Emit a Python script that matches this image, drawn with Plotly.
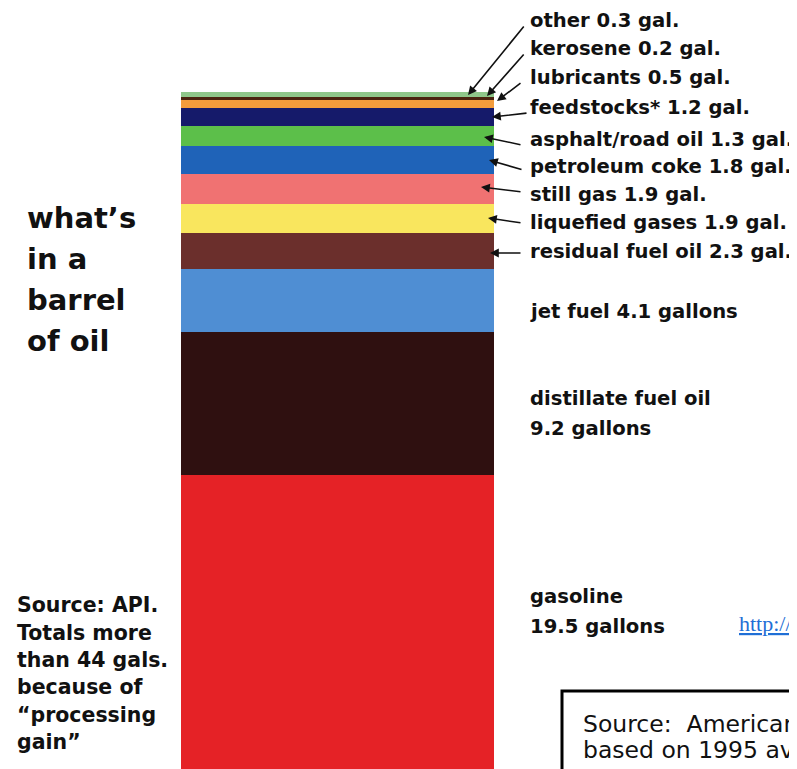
import plotly.graph_objects as go

# ---------------- data (top of barrel -> bottom) ----------------
products = ["other", "kerosene", "lubricants", "feedstocks*", "asphalt/road oil",
            "petroleum coke", "still gas", "liquefied gases", "residual fuel oil",
            "jet fuel", "distillate fuel oil", "gasoline"]
gallons = [0.3, 0.2, 0.5, 1.2, 1.3, 1.8, 1.9, 1.9, 2.3, 4.1, 9.2, 19.5]

title_lines = ["what\u2019s", "in a", "barrel", "of oil"]
note_lines = ["Source: API.", "Totals more", "than 44 gals.", "because of",
              "\u201cprocessing", "gain\u201d"]
box_lines = ["Source:&nbsp; American", "based on 1995 average"]
link_text = "http://"

# ---------------- styles ----------------
colors = ["#8fc78a", "#4b2410", "#f39c3c", "#151a6a", "#5cbf4a", "#1f63b8",
          "#f07272", "#f9e65e", "#6b2f2c", "#4f8ed3", "#2f1010", "#e52226"]

PAGE_W, PAGE_H = 797, 769
OFF = 8                      # browser default body margin
FW, FH = PAGE_W - OFF, PAGE_H - OFF
PX_PER_GAL = 15.5
BAR_TOP_PX = 92
total = sum(gallons)
y_top = total + (BAR_TOP_PX - OFF) / PX_PER_GAL
y_bot = total - (PAGE_H - BAR_TOP_PX) / PX_PER_GAL


def px(xp):
    return (xp - OFF) / FW


def py(yp):
    return 1 - (yp - OFF) / FH


fig = go.Figure()
# stack from the bottom (gasoline) upwards
for name, val, col in reversed(list(zip(products, gallons, colors))):
    fig.add_trace(go.Bar(
        x=[337.5], y=[val], width=313, name=name,
        marker=dict(color=col, line=dict(width=0)),
        hoverinfo="name+y",
    ))

ann = []
lab_font = dict(family="DejaVu Sans", size=19.6, color="#111111", weight="bold")

# small products: labels with arrows
small_label_y = [21, 49, 78, 107, 139, 166, 194, 222, 251]
arrow_tail = [(525, 25), (525, 53), (522, 82), (528, 113), (522, 145),
              (523, 170), (522, 192), (522, 223), (522, 253)]
arrow_tip = [(468, 95), (487, 96), (497, 101), (492, 117), (484, 137),
             (489, 160), (481, 187), (488, 218), (490, 253)]
for i in range(9):
    txt = f"{products[i]} {gallons[i]} gal."
    ann.append(dict(x=px(528), y=py(small_label_y[i]), xref="paper", yref="paper",
                    text=txt, showarrow=False, xanchor="left", yanchor="middle",
                    font=lab_font))
    (tx, ty), (hx, hy) = arrow_tail[i], arrow_tip[i]
    ann.append(dict(x=px(hx), y=py(hy), xref="paper", yref="paper", text="",
                    showarrow=True, arrowhead=2, arrowsize=1.1, arrowwidth=1.6,
                    arrowcolor="#111111", ax=tx - hx, ay=ty - hy, standoff=0))

# large products: plain labels
big_lines = [
    [f"{products[9]} {gallons[9]} gallons"],
    [products[10], f"{gallons[10]} gallons"],
    [products[11], f"{gallons[11]} gallons"],
]
big_y = [[311], [398, 428], [596, 626]]
for lines, ys in zip(big_lines, big_y):
    for t, yy in zip(lines, ys):
        ann.append(dict(x=px(528), y=py(yy), xref="paper", yref="paper", text=t,
                        showarrow=False, xanchor="left", yanchor="middle",
                        font=lab_font))

# left title
for t, yy in zip(title_lines, [218, 259, 300, 341]):
    ann.append(dict(x=px(25), y=py(yy), xref="paper", yref="paper", text=t,
                    showarrow=False, xanchor="left", yanchor="middle",
                    font=dict(family="DejaVu Sans", size=29, color="#111111",
                              weight="bold")))

# left note
for t, yy in zip(note_lines, [605, 633, 660, 687, 715, 742]):
    ann.append(dict(x=px(15), y=py(yy), xref="paper", yref="paper", text=t,
                    showarrow=False, xanchor="left", yanchor="middle",
                    font=dict(family="DejaVu Sans", size=20.5, color="#111111",
                              weight="bold")))

# link
ann.append(dict(x=px(737), y=py(623), xref="paper", yref="paper",
                text=f"<u>{link_text}</u>", showarrow=False, xanchor="left",
                yanchor="middle",
                font=dict(family="Liberation Serif", size=22, color="#1f6fd6")))

# source box text
for t, yy in zip(box_lines, [724, 750]):
    ann.append(dict(x=px(581), y=py(yy), xref="paper", yref="paper", text=t,
                    showarrow=False, xanchor="left", yanchor="middle",
                    font=dict(family="DejaVu Sans", size=23.5, color="#111111")))

fig.update_layout(
    width=FW, height=FH,
    margin=dict(l=0, r=0, t=0, b=0),
    paper_bgcolor="white", plot_bgcolor="white",
    barmode="stack", showlegend=False,
    xaxis=dict(range=[OFF, PAGE_W], visible=False, fixedrange=True),
    yaxis=dict(range=[y_bot, y_top], visible=False, fixedrange=True),
    annotations=ann,
    shapes=[dict(type="rect", xref="paper", yref="paper",
                 x0=px(562), x1=px(900), y0=py(900), y1=py(691),
                 line=dict(color="black", width=3), fillcolor="rgba(0,0,0,0)")],
)

fig.write_html("out.html")
